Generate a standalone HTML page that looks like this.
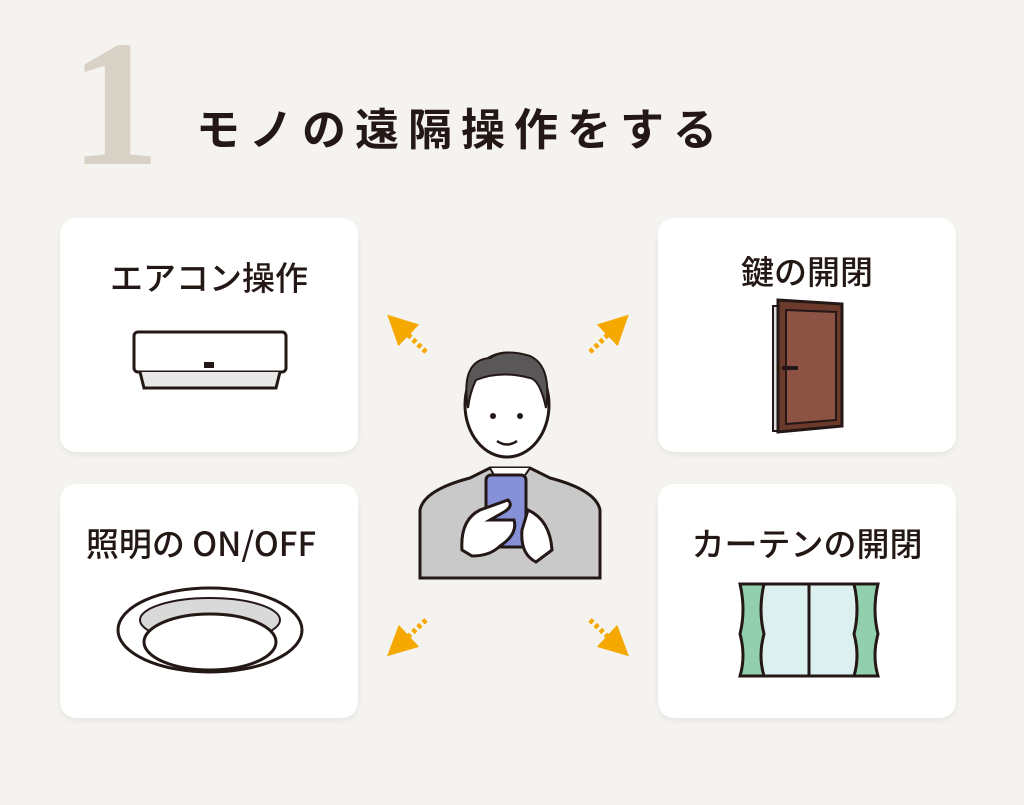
<!DOCTYPE html>
<html><head><meta charset="utf-8"><style>
body{margin:0;width:1024px;height:805px;background:#f5f3ef;position:relative;overflow:hidden;font-family:"Liberation Sans","Noto Sans CJK JP",sans-serif;color:#231815}
.one{position:absolute;left:70px;top:14px;font:bold 180px "Liberation Serif",serif;color:#d8d1c6;line-height:1}
.title{position:absolute;left:196px;top:94px;font-size:44px;font-weight:bold;letter-spacing:9px;white-space:nowrap;font-family:"Noto Sans CJK JP",sans-serif}
.card{position:absolute;width:298px;height:234px;background:#fff;border-radius:16px;box-shadow:0 3px 6px rgba(0,0,0,0.06)}
.lbl{position:absolute;width:100%;text-align:center;top:34px;font-size:33px;font-weight:500;font-family:"Noto Sans CJK JP",sans-serif;white-space:nowrap}
svg{position:absolute}
</style></head><body>
<div class="one">1</div>
<div class="title">モノの遠隔操作をする</div>

<div class="card" style="left:60px;top:218px"><div class="lbl">エアコン操作</div>
<svg style="left:70px;top:110px" width="160" height="66"><rect x="4" y="4" width="152" height="40" rx="4" fill="#fff" stroke="#231815" stroke-width="3"/><path d="M10 44 L14 60 H146 L150 44" fill="#e8e8e8" stroke="#231815" stroke-width="3"/><rect x="74" y="34" width="10" height="6" fill="#231815"/></svg></div>

<div class="card" style="left:658px;top:218px"><div class="lbl" style="top:28px">鍵の開閉</div>
<svg style="left:112px;top:78px" width="80" height="140"><rect x="3" y="10" width="10" height="125" fill="#ddd" stroke="#231815" stroke-width="2"/><path d="M8 4 L72 8 V130 L8 136 Z" fill="#6b3a2a" stroke="#231815" stroke-width="3"/><path d="M16 14 L66 16 V124 L16 128 Z" fill="#8c5243" stroke="#231815" stroke-width="2"/><rect x="12" y="70" width="16" height="4" fill="#231815"/></svg></div>

<div class="card" style="left:60px;top:484px"><div class="lbl" style="left:-8px">照明の ON/OFF</div>
<svg style="left:52px;top:100px" width="196" height="100"><ellipse cx="98" cy="46" rx="92" ry="42" fill="#fff" stroke="#231815" stroke-width="3"/><ellipse cx="98" cy="36" rx="70" ry="22" fill="#d9d9d9" stroke="#231815" stroke-width="2"/><ellipse cx="98" cy="58" rx="66" ry="28" fill="#fff" stroke="#231815" stroke-width="3"/></svg></div>

<div class="card" style="left:658px;top:484px"><div class="lbl">カーテンの開閉</div>
<svg style="left:78px;top:96px" width="146" height="100"><rect x="22" y="4" width="102" height="92" fill="#dcf0ef" stroke="#231815" stroke-width="3"/><line x1="73" y1="4" x2="73" y2="96" stroke="#231815" stroke-width="3"/><path d="M4 4 H28 Q22 30 28 54 Q22 76 28 96 H4 Q10 76 4 54 Q10 30 4 4Z" fill="#92cfae" stroke="#231815" stroke-width="3"/><path d="M118 4 H142 Q136 30 142 54 Q136 76 142 96 H118 Q124 76 118 54 Q124 30 118 4Z" fill="#92cfae" stroke="#231815" stroke-width="3"/></svg></div>

<svg style="left:380px;top:300px" width="260" height="370">
<defs><marker id="a" viewBox="0 0 10 10" refX="5" refY="5" markerWidth="6" markerHeight="6" orient="auto"><path d="M0 0 L10 5 L0 10 Z" fill="#f5a800"/></marker></defs>
<g stroke="#f5a800" stroke-width="5" stroke-dasharray="4 3" fill="none" marker-end="url(#a)">
<line x1="46" y1="52" x2="18" y2="25"/><line x1="210" y1="52" x2="238" y2="25"/>
<line x1="46" y1="320" x2="18" y2="346"/><line x1="210" y1="320" x2="238" y2="346"/></g>
<path d="M40 278 V210 Q44 190 90 178 L110 168 H150 L170 178 Q216 190 220 210 V278 Z" fill="#c9c9c9" stroke="#231815" stroke-width="3"/>
<path d="M110 168 L128 200 L150 168" fill="#fff" stroke="#231815" stroke-width="2"/>
<ellipse cx="127" cy="105" rx="42" ry="52" fill="#fff" stroke="#231815" stroke-width="3"/>
<path d="M88 108 Q80 60 110 58 Q125 48 150 56 Q172 66 166 108 Q160 80 150 78 Q120 70 96 80 Q90 92 88 108Z" fill="#595757" stroke="#231815" stroke-width="2"/>
<circle cx="113" cy="116" r="3" fill="#231815"/><circle cx="140" cy="116" r="3" fill="#231815"/>
<path d="M117 141 Q127 148 137 141" stroke="#231815" stroke-width="2.5" fill="none"/>
<rect x="106" y="175" width="40" height="72" rx="5" fill="#8590d6" stroke="#231815" stroke-width="3"/>
<path d="M82 250 Q80 220 100 210 L128 200 Q134 206 124 212 L110 220 H134 Q138 234 120 246 Q110 256 92 256Z" fill="#fff" stroke="#231815" stroke-width="3"/>
<path d="M148 210 Q170 220 172 250 L156 262 Q140 254 142 230 Z" fill="#fff" stroke="#231815" stroke-width="3"/>
</svg>
</body></html>
